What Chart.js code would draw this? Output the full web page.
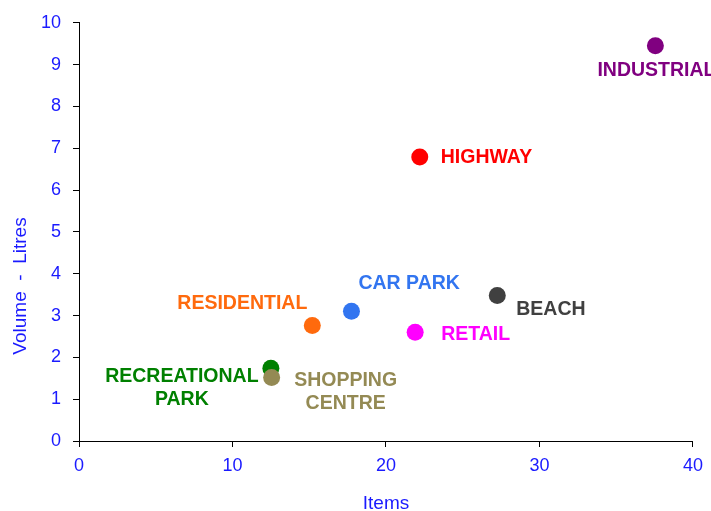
<!DOCTYPE html>
<html>
<head>
<meta charset="utf-8">
<script src="https://cdn.jsdelivr.net/npm/chart.js@4"></script>
<style>
  html, body { margin: 0; padding: 0; background: #fff; }
  #wrap { width: 711px; height: 511px; }
</style>
</head>
<body>
<div id="wrap"><canvas id="c" width="711" height="511"></canvas></div>
<script>
// data
const categories = ['INDUSTRIAL', 'HIGHWAY', 'CAR PARK', 'BEACH', 'RESIDENTIAL', 'RETAIL', 'RECREATIONAL\nPARK', 'SHOPPING\nCENTRE'];
const itemsValues = [37.55, 22.2, 17.75, 27.25, 15.2, 21.9, 12.5, 12.55];
const litresValues = [9.45, 6.79, 3.1, 3.48, 2.76, 2.6, 1.74, 1.52];
const xTicks = [0, 10, 20, 30, 40];
const yTicks = [0, 1, 2, 3, 4, 5, 6, 7, 8, 9, 10];

const colours = ['#800080', '#ff0000', '#3275f0', '#404040', '#ff6a0d', '#ff00ff', '#008000', '#948a54'];

// label placement next to each point (dx, dy in px, text alignment)
const labelPlace = [
    { dx: -58, dy: 25, align: 'left' },
    { dx: 21, dy: 1, align: 'left' },
    { dx: 7, dy: -28, align: 'left' },
    { dx: 19, dy: 14, align: 'left' },
    { dx: -5, dy: -22, align: 'right' },
    { dx: 26, dy: 2, align: 'left' },
    { dx: -89, dy: 8, align: 'center' },
    { dx: 74, dy: 3, align: 'center' }
];

const blue = '#1a1aff';
const fam = '"Liberation Sans", Arial, sans-serif';

const pointLabels = {
    id: 'pointLabels',
    afterDatasetsDraw(chart) {
        const ctx = chart.ctx;
        const meta = chart.getDatasetMeta(0);
        ctx.save();
        ctx.font = 'bold 19.5px ' + fam;
        ctx.textBaseline = 'middle';
        meta.data.forEach((pt, i) => {
            const p = labelPlace[i];
            ctx.fillStyle = colours[i];
            ctx.textAlign = p.align;
            categories[i].split('\n').forEach((line, k) => {
                ctx.fillText(line, pt.x + p.dx, pt.y + p.dy + k * 23);
            });
        });
        // y axis title sits a bit below the middle of the plot, as in the original
        ctx.translate(21, 286);
        ctx.rotate(-Math.PI / 2);
        ctx.font = '19px ' + fam;
        ctx.fillStyle = blue;
        ctx.textAlign = 'center';
        ctx.fillText('Volume  -  Litres', 0, 0);
        ctx.restore();
    }
};

new Chart(document.getElementById('c'), {
    type: 'scatter',
    data: {
        datasets: [{
            data: itemsValues.map((x, i) => ({ x: x, y: litresValues[i] })),
            pointBackgroundColor: colours,
            pointBorderWidth: 0,
            pointRadius: 8.5,
            pointHoverRadius: 8.5
        }]
    },
    plugins: [pointLabels],
    options: {
        responsive: false,
        animation: false,
        layout: { padding: { top: 20, right: 17, left: 0, bottom: 0 } },
        plugins: { legend: { display: false }, tooltip: { enabled: false } },
        scales: {
            x: {
                type: 'linear',
                min: 0, max: 40,
                afterBuildTicks: (s) => { s.ticks = xTicks.map(v => ({ value: v })); },
                afterFit: (s) => { s.height = 70; },
                border: { display: true, color: '#000', width: 1 },
                grid: { drawOnChartArea: false, drawTicks: true, tickLength: 6, color: '#000' },
                ticks: { color: blue, font: { family: fam, size: 18 }, padding: 8 },
                title: { display: true, text: 'Items', color: blue, font: { family: fam, size: 19 }, padding: { top: 14, bottom: -4 } }
            },
            y: {
                type: 'linear',
                min: 0, max: 10,
                afterBuildTicks: (s) => { s.ticks = yTicks.map(v => ({ value: v })); },
                afterFit: (s) => { s.width = 79; },
                border: { display: true, color: '#000', width: 1 },
                grid: { drawOnChartArea: false, drawTicks: true, tickLength: 6, color: '#000' },
                ticks: { color: blue, font: { family: fam, size: 18 }, padding: 12 }
            }
        }
    }
});
</script>
</body>
</html>
